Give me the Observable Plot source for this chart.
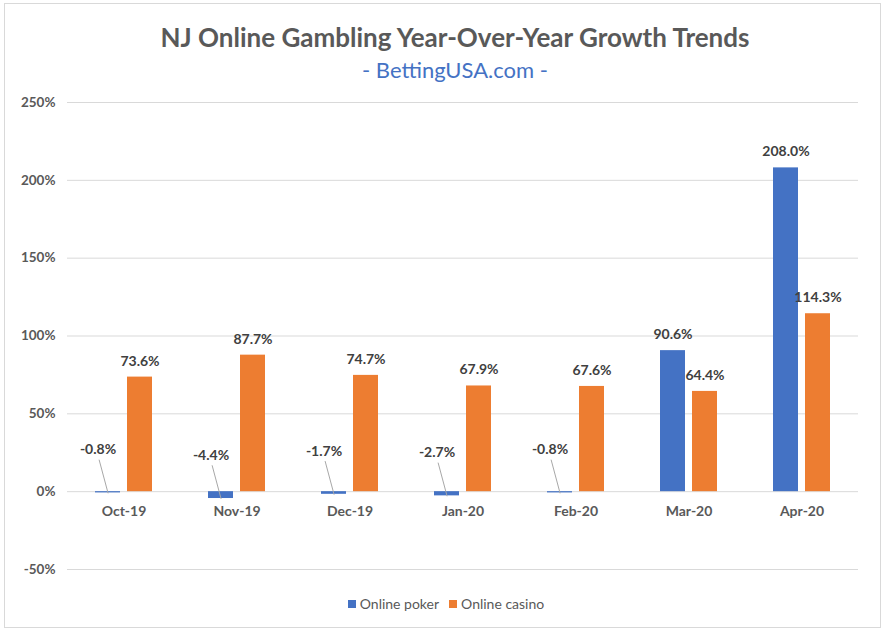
<!DOCTYPE html>
<html><head><meta charset="utf-8">
<script src="https://cdn.jsdelivr.net/npm/d3@7"></script>
<script src="https://cdn.jsdelivr.net/npm/@observablehq/plot@0.6"></script>
<style>
body{margin:0;background:#fff;font-family:Lato,"DejaVu Sans",sans-serif}
#wrap{position:relative;width:885px;height:632px;overflow:hidden;background:#fff}
#chart{position:absolute;left:0;top:0}
#frame{position:absolute;left:4px;top:3px;width:877px;height:625px;border:1px solid #d9d9d9;box-sizing:border-box;pointer-events:none}
#title{position:absolute;top:21px;left:0;width:910px;text-align:center;font-size:26px;font-weight:bold;color:#595959;line-height:32px}
#subtitle{position:absolute;top:57px;left:0;width:910px;text-align:center;font-size:22px;color:#4472c4;line-height:26px}
#legend{position:absolute;top:594px;left:0;width:892px;text-align:center;font-size:14px;color:#595959;line-height:18px}
#legend span.item{display:inline-flex;align-items:center;margin:0 5px}
#legend i{display:inline-block;width:8px;height:8px;margin-right:4px}
</style>
</head><body>
<div id="wrap">
  <div id="chart"></div>
  <div id="frame"></div>
  <div id="title"></div>
  <div id="subtitle"></div>
  <div id="legend"></div>
</div>
<script>
const titleText = "NJ Online Gambling Year-Over-Year Growth Trends";
const subtitleText = "- BettingUSA.com -";
const months = ["Oct-19","Nov-19","Dec-19","Jan-20","Feb-20","Mar-20","Apr-20"];
const series = ["Online poker","Online casino"];
const poker = [-0.8,-4.4,-1.7,-2.7,-0.8,90.6,208.0];
const casino = [73.6,87.7,74.7,67.9,67.6,64.4,114.3];
const yTicks = [-50,0,50,100,150,200,250];
const colors = ["#4472c4","#ed7d31"];

document.getElementById("title").textContent = titleText;
document.getElementById("subtitle").textContent = subtitleText;
const leg = document.getElementById("legend");
series.forEach((s,i)=>{
  const it = document.createElement("span"); it.className="item";
  const sw = document.createElement("i"); sw.style.background = colors[i];
  it.appendChild(sw); it.appendChild(document.createTextNode(s));
  leg.appendChild(it);
});

const rows = months.flatMap((m,i)=>[
  {month:m, series:series[0], value:poker[i]},
  {month:m, series:series[1], value:casino[i]}
]);
const pos = rows.filter(d=>d.value>=0);
const neg = rows.filter(d=>d.value<0);
const fmt = v => v.toFixed(1)+"%";

const chart = Plot.plot({
  width:885, height:632,
  marginTop:102, marginBottom:63, marginLeft:65, marginRight:25,
  fx:{domain:months, padding:0, axis:null},
  x:{domain:series, paddingInner:0.21, paddingOuter:0.83, axis:null},
  y:{domain:[-50,250]},
  color:{domain:series, range:colors},
  style:{fontFamily:"Lato, sans-serif", background:"transparent", overflow:"visible"},
  marks:[
    Plot.gridY(yTicks,{stroke:"#d9d9d9", strokeOpacity:1}),
    Plot.axisY(yTicks,{tickFormat:d=>d+"%", tickSize:0, tickPadding:12, fontSize:13.5, fontWeight:"bold", fill:"#595959", label:null}),
    Plot.barY(rows,{fx:"month", x:"series", y:"value", fill:"series"}),
    Plot.text(pos,{fx:"month", x:"series", y:"value", text:d=>fmt(d.value), dy:-16, fontWeight:"bold", fontSize:14, fill:"#404040"}),
    Plot.vector(neg,{fx:"month", x:"series", y:"value", length:34, rotate:-15, anchor:"start", stroke:"#a6a6a6", strokeWidth:0.9,
      shape:{draw(ctx,l){ctx.moveTo(0,0); ctx.lineTo(0,-l);}}}),
    Plot.text(neg,{fx:"month", x:"series", y:"value", text:d=>fmt(d.value), dx:-10, dy:-43, fontWeight:"bold", fontSize:14, fill:"#404040"}),
    Plot.text(months,{fx:d=>d, y:()=>0, text:d=>d, dy:20, fontWeight:"bold", fontSize:14, fill:"#595959"})
  ]
});
document.getElementById("chart").appendChild(chart);
</script>
</body></html>
